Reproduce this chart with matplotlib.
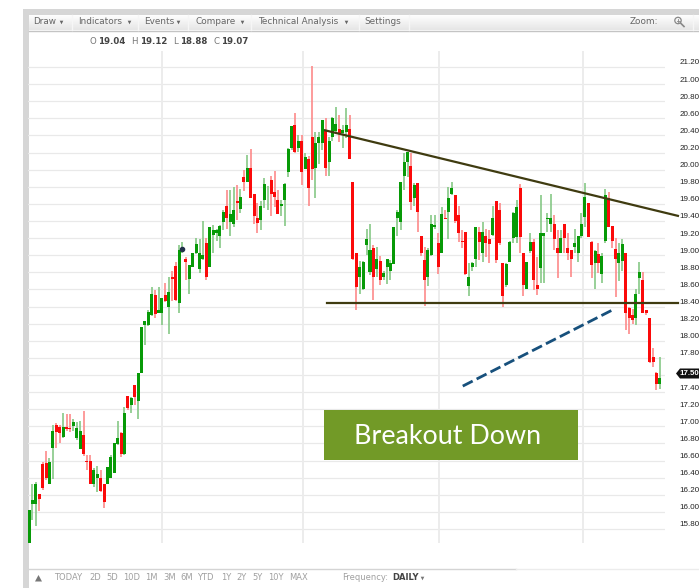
import matplotlib
matplotlib.use("Agg")
import matplotlib.pyplot as plt
import numpy as np
from matplotlib.patches import Polygon, Rectangle, Circle

# one daily candle per slot
highs = [16.02,16.33,16.35,16.21,16.58,16.71,16.63,17.01,17.04,17.01,
17.16,17.14,17.14,17.09,17.05,17.06,17.18,16.67,16.66,16.51,
16.54,16.49,16.33,16.52,16.67,16.81,17.06,16.93,17.22,17.36,
17.34,17.48,17.62,18.16,18.23,18.36,18.63,18.59,18.63,18.50,
18.67,18.74,18.82,18.92,19.12,19.16,18.98,18.88,19.03,19.20,
19.19,19.40,19.20,19.33,19.35,19.31,19.35,19.53,19.76,19.76,
19.80,19.82,19.77,20.00,20.17,20.24,19.72,19.61,19.63,19.90,
19.81,19.93,19.98,19.76,19.64,19.84,20.25,20.51,20.66,20.40,
20.40,20.19,20.16,21.21,20.44,20.44,20.58,20.60,20.38,20.61,
20.73,20.64,20.52,20.72,20.64,19.86,19.02,18.93,18.93,19.31,
19.36,19.12,19.10,18.99,18.81,18.95,18.94,19.33,19.53,19.85,
20.19,20.21,20.20,19.84,19.84,19.22,19.10,19.08,19.47,19.47,
19.26,19.56,19.53,19.80,19.85,19.70,19.58,19.29,19.27,18.91,
18.92,19.33,19.33,19.39,19.31,19.29,19.58,19.63,19.61,18.91,
18.91,19.17,19.50,19.64,19.83,19.02,18.92,19.26,19.19,18.98,
19.70,19.26,19.49,19.71,19.47,19.29,19.29,19.37,19.26,19.06,
19.31,19.23,19.49,19.84,19.61,19.17,19.06,19.14,19.02,19.77,
19.74,19.34,19.20,19.14,19.19,19.02,18.39,18.37,18.61,18.92,
18.80,18.36,18.27,17.92,17.63,17.81]

body_tops = [16.02,16.14,16.33,16.21,16.56,16.57,16.58,16.95,17.01,16.99,
16.99,16.99,16.98,17.05,16.98,16.95,16.90,16.59,16.59,16.49,
16.44,16.40,16.33,16.52,16.64,16.80,16.86,16.92,17.15,17.35,
17.33,17.48,17.62,18.16,18.23,18.34,18.55,18.53,18.36,18.50,
18.54,18.57,18.75,18.87,19.06,19.08,18.95,18.88,19.02,19.13,
19.02,19.00,19.14,19.33,19.30,19.30,19.34,19.50,19.58,19.48,
19.53,19.63,19.68,19.92,20.02,20.02,19.72,19.44,19.58,19.83,
19.79,19.88,19.74,19.65,19.60,19.83,20.24,20.51,20.52,20.34,
20.34,20.15,20.13,20.38,20.31,20.38,20.58,20.46,20.34,20.60,
20.53,20.48,20.46,20.52,20.47,19.86,19.02,18.86,18.92,19.19,
19.06,19.08,18.95,18.93,18.79,18.95,18.91,19.33,19.51,19.85,
20.09,20.21,20.04,19.82,19.84,19.22,18.94,19.06,19.36,19.35,
19.14,19.48,19.44,19.67,19.78,19.70,19.47,19.17,19.27,18.75,
18.91,19.33,19.27,19.27,19.23,19.19,19.44,19.63,19.53,18.91,
18.90,19.15,19.49,19.56,19.79,19.02,18.92,19.15,19.16,18.65,
19.26,19.26,19.43,19.43,19.36,19.08,19.20,19.36,19.09,19.06,
19.14,19.22,19.36,19.68,19.61,19.16,19.05,19.01,18.99,19.70,
19.67,19.34,19.07,19.02,19.13,19.02,18.38,18.30,18.55,18.80,
18.71,18.36,18.27,17.81,17.62,17.57]

body_bots = [15.61,16.09,16.09,16.15,16.28,16.39,16.33,16.75,16.93,16.92,
16.87,16.97,16.97,17.00,16.86,16.74,16.68,16.58,16.33,16.33,
16.40,16.24,16.11,16.32,16.40,16.46,16.79,16.68,16.68,17.21,
17.25,17.34,17.29,17.62,18.19,18.18,18.30,18.31,18.33,18.32,
18.46,18.39,18.72,18.48,18.44,19.06,18.92,18.72,18.86,19.02,
18.84,18.95,18.75,18.86,19.24,19.26,19.23,19.39,19.44,19.39,
19.37,19.61,19.54,19.86,19.85,19.67,19.46,19.38,19.41,19.65,
19.78,19.71,19.68,19.48,19.57,19.65,19.97,20.25,20.21,20.25,
19.97,20.01,19.78,20.01,20.02,20.31,20.31,20.02,20.09,20.38,
20.45,20.43,20.43,20.44,20.12,18.95,18.63,18.74,18.61,19.12,
18.80,18.75,18.84,18.71,18.74,18.86,18.82,18.90,19.44,19.39,
19.93,20.09,19.62,19.67,19.50,19.02,18.71,18.74,19.00,19.33,
18.86,19.03,19.42,19.50,19.71,19.40,19.26,19.15,18.78,18.64,
18.86,18.96,19.15,19.02,19.14,19.13,19.24,18.94,19.14,18.52,
18.65,18.92,19.20,19.21,19.21,18.65,18.60,19.05,18.71,18.61,
18.85,19.23,19.42,19.37,19.19,19.02,19.03,19.20,19.02,18.96,
19.10,19.02,19.22,19.45,19.21,18.89,18.91,18.91,18.78,19.17,
19.33,19.17,18.96,18.91,18.93,18.33,18.27,18.24,18.27,18.73,
18.32,18.32,17.75,17.75,17.49,17.50]

lows = [15.61,15.90,15.84,16.01,16.25,16.37,16.32,16.38,16.75,16.80,
16.86,16.95,16.93,16.95,16.84,16.73,16.65,16.49,16.32,16.29,
16.23,16.23,16.04,16.32,16.40,16.46,16.78,16.64,16.66,17.19,
17.16,17.25,17.09,17.62,17.95,18.17,18.29,18.27,18.33,18.19,
18.45,18.08,18.47,18.47,18.33,19.03,18.71,18.55,18.86,19.01,
18.79,18.94,18.71,18.86,19.02,19.17,19.09,19.30,19.31,19.23,
19.33,19.41,19.49,19.75,19.85,19.67,19.37,19.26,19.29,19.55,
19.53,19.46,19.56,19.48,19.46,19.34,19.92,20.23,20.19,20.21,
19.82,20.01,19.57,19.88,19.67,20.07,20.23,19.93,19.93,20.34,
20.43,20.32,20.25,20.37,20.12,18.94,18.36,18.55,18.59,19.00,
18.77,18.48,18.74,18.65,18.71,18.66,18.71,18.90,19.23,19.29,
19.76,19.92,19.53,19.58,19.27,18.99,18.41,18.64,18.99,19.31,
18.78,19.03,19.42,19.19,19.70,19.38,19.15,19.08,18.77,18.52,
18.82,18.86,18.94,18.92,18.98,18.91,19.23,18.91,19.12,18.40,
18.63,18.92,19.14,19.14,19.03,18.52,18.60,19.03,18.59,18.54,
18.67,18.67,19.27,19.27,19.06,18.73,19.03,19.02,18.94,18.75,
19.02,18.92,19.20,19.33,19.21,18.73,18.61,18.79,18.67,19.14,
19.33,19.08,18.51,18.70,18.82,18.12,18.08,18.20,18.18,18.55,
18.32,18.30,17.74,17.69,17.42,17.44]

directions = ("GGGRRRGGRR" "GRRGGGRRRG" "GRRGGGGRGR" "GRGGGGGRGG" "RGRRGGRGGG"
              "GGRGGGGGRG" "GRGRGRRRGG" "GRRRGGGGRG" "RGRRGGGRGG" "GRGGRRRGGG"
              "GRGRGGGGGG" "GGRGRRRGGG" "RGRGGRRRRG" "GGRGRRGRRR" "GGGGRRGGRR"
              "GGGGRRGRRR" "GGGGRRGRGG" "RRRGGRRRGG" "RRRRRG")

price_ticks = [21.2, 21.0, 20.8, 20.6, 20.4, 20.2, 20.0, 19.8, 19.6, 19.4, 19.2, 19.0, 18.8, 18.6,
               18.4, 18.2, 18.0, 17.8, 17.6, 17.4, 17.2, 17.0, 16.8, 16.6, 16.4, 16.2, 16.0, 15.8]
date_grid = [39, 80.4, 120.2, 162.5]

resistance_x = [86.8, 190.3]
resistance_y = [20.46, 19.46]
support_x = [87.4, 190.3]
support_y = [18.44, 18.44]
arrow_x = [127.2, 171.1]
arrow_y = [17.47, 18.36]
last_price = "17.50"
cursor_i = 45
cursor_price = 19.07

menu_items = [("Draw", 33), ("Indicators", 78), ("Events", 144), ("Compare", 196), ("Technical Analysis", 258)]
range_items = [("TODAY", 54), ("2D", 89), ("5D", 106), ("10D", 123), ("1M", 145), ("3M", 163), ("6M", 180),
               ("YTD", 197), ("1Y", 221), ("2Y", 236), ("5Y", 252), ("10Y", 268), ("MAX", 289)]
ohlc_labels = [("O", 89, "19.04", 98), ("H", 131, "19.12", 140), ("L", 173, "18.88", 180), ("C", 213, "19.07", 221)]

fig = plt.figure(figsize=(6.99, 5.88), dpi=100)

# page furniture, in pixels
page = fig.add_axes([0, 0, 1, 1], zorder=1)
grad = np.linspace(1, 0.9, 32).reshape(-1, 1)
page.imshow(grad, extent=(28, 699, 30, 14), cmap="gray", vmin=0, vmax=1, aspect="auto")
page.set_xlim(0, 699)
page.set_ylim(588, 0)
page.axis("off")
page.add_patch(Rectangle((22.5, 9), 677, 5.5, color="#d6d6d6", lw=0))
page.add_patch(Rectangle((22.5, 9), 6, 579, color="#d6d6d6", lw=0))
page.plot([28.5, 699], [30.5, 30.5], color="#c4c4c4", lw=1)
page.plot([28.5, 516], [568.5, 568.5], color="#d4d4d4", lw=1)
page.plot([516, 699], [568.5, 568.5], color="#ececec", lw=1)
for sx in [71.5, 137.5, 188, 251, 358.5, 409]:
    page.plot([sx, sx], [15, 30], color="#f6f6f6", lw=1)
for name, tx in menu_items:
    page.text(tx, 22, name, fontsize=6.4, color="#666666", va="center")
for ax_x in [61, 129, 178, 242, 346]:
    page.plot(ax_x, 21.5, marker="v", ms=2.6, color="#666666", mec="none")
page.text(364, 22, "Settings", fontsize=6.4, color="#666666", va="center")
page.text(630, 22, "Zoom:", fontsize=6.4, color="#666666", va="center")
page.add_patch(Circle((678, 20.5), 3.2, fill=False, ec="#888888", lw=0.9))
page.plot([680.5, 684], [23, 26.5], color="#888888", lw=1.2)
page.plot([676.5, 679.5], [20.5, 20.5], color="#888888", lw=0.6)
page.plot([678, 678], [19, 22], color="#888888", lw=0.6)
page.plot([693, 693], [15, 30], color="#f6f6f6", lw=1)

for letter, lx, value, vx in ohlc_labels:
    page.text(lx, 42, letter, fontsize=6.2, color="#777777", va="center")
    page.text(vx, 42, value, fontsize=6.2, color="#444444", va="center", weight="bold")

page.add_patch(Polygon([[35, 581.5], [38.5, 575], [42, 581.5]], color="#777777", lw=0))
for name, tx in range_items:
    page.text(tx, 578, name, fontsize=6, color="#a0a0a0", va="center")
page.text(342, 578, "Frequency:", fontsize=6, color="#a0a0a0", va="center")
page.text(392, 578, "DAILY", fontsize=6, color="#444444", va="center", weight="bold")
page.plot(422, 578, marker="v", ms=2.6, color="#777777", mec="none")

# price chart
px_x = lambda px: (px - 29) / 3.41
ax = fig.add_axes([28 / 699, 1 - 543 / 588, (665 - 28) / 699, (543 - 51) / 588], zorder=2)
ax.patch.set_alpha(0)
ax.set_xlim(px_x(28), px_x(665))
ax.set_ylim(15.636, 21.387)
for s in ax.spines.values():
    s.set_visible(False)
ax.set_xticks([])
ax.set_yticks([])

for v in price_ticks:
    ax.axhline(v, color="#e9e9e9", lw=0.9, zorder=1)
    if v != 17.6:  # hidden behind the last price tag
        ax.annotate("%.2f" % v, xy=(1, v), xycoords=("axes fraction", "data"), xytext=(10.4, 2.9),
                    textcoords="offset points", fontsize=5.8, family="Liberation Sans", color="#222222",
                    va="center", annotation_clip=False)
for v in date_grid:
    ax.axvline(v, color="#ececec", lw=1.4, zorder=1)

idx = np.arange(len(highs))
up = np.array([d == "G" for d in directions])
tops = np.array(body_tops)
bots = np.array(body_bots)
opens = np.where(up, bots, tops)
closes = np.where(up, tops, bots)
body_col = np.where(closes >= opens, "#079a07", "#fb0a0a")
wick_col = np.where(closes >= opens, "#86c886", "#fd8a8a")
ax.vlines(idx, lows, highs, colors=wick_col, lw=1.2, zorder=3)
ax.bar(idx, tops - bots, bottom=bots, width=0.88, color=body_col, lw=0, zorder=4)
ax.scatter([cursor_i], [cursor_price], s=9, color="#22304a", zorder=5)

ax.plot(resistance_x, resistance_y, color="#3f3b10", lw=1.6, clip_on=False, zorder=6)
ax.plot(support_x, support_y, color="#3f3b10", lw=1.6, clip_on=False, zorder=6)
ax.plot(arrow_x, arrow_y, color="#17507c", lw=2, ls=(0, (4, 1.6)), zorder=6)

# overlay on top of the chart
top = fig.add_axes([0, 0, 1, 1], zorder=3)
top.set_xlim(0, 699)
top.set_ylim(588, 0)
top.axis("off")
top.add_patch(Rectangle((324, 410), 254, 50, color="#729a27", lw=0))
top.text(354, 436, "Breakout Down", family="Lato", fontsize=19.4, color="white", ha="left", va="center")
top.add_patch(Polygon([[676, 373.5], [680, 368.5], [699, 368.5], [699, 378.5], [680, 378.5]], color="#111111", lw=0))
top.text(679.5, 373.5, last_price, fontsize=5.7, family="Liberation Sans", color="white", va="center", weight="bold")

fig.savefig("out.png", dpi=100)
